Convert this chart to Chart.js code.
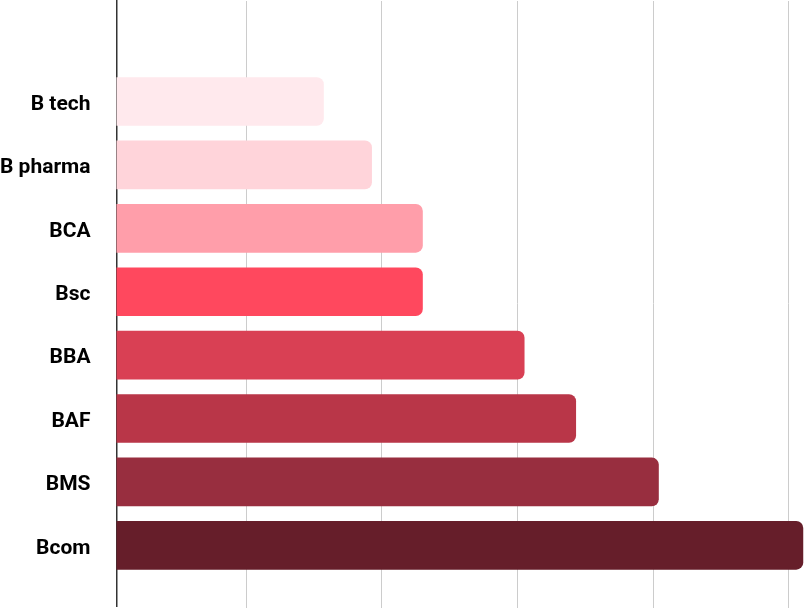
<!DOCTYPE html>
<html>
<head>
<meta charset="utf-8">
<style>
  html, body { margin: 0; padding: 0; background: #fff; }
  #wrap { width: 804px; height: 608px; }
</style>
<script src="https://cdn.jsdelivr.net/npm/chart.js@4/dist/chart.umd.min.js"></script>
</head>
<body>
<div id="wrap"><canvas id="courses"></canvas></div>
<script>
const courses = ['B tech', 'B pharma', 'BCA', 'Bsc', 'BBA', 'BAF', 'BMS', 'Bcom'];
const counts = [15.7, 19.25, 23.0, 23.0, 30.5, 34.3, 40.4, 51.05];
const barColors = ['#ffe9ed', '#ffd4da', '#ff9eaa', '#ff485e', '#d94054', '#b93648', '#982e3f', '#661e2a'];
const gridValues = [10, 20, 30, 40, 50];

// bars are positioned by index on a linear axis so the rows sit where the reference has them
const points = counts.map((v, i) => ({ x: v, y: i }));

new Chart(document.getElementById('courses'), {
    type: 'bar',
    data: {
        datasets: [{
            data: points,
            backgroundColor: barColors,
            borderRadius: 7,
            borderSkipped: 'start',
            barThickness: 48
        }]
    },
    options: {
        indexAxis: 'y',
        responsive: true,
        maintainAspectRatio: false,
        animation: false,
        layout: { padding: { top: 1 } },
        plugins: {
            legend: { display: false },
            tooltip: { enabled: false }
        },
        scales: {
            x: {
                type: 'linear',
                min: 0.44,
                max: 51.13,
                afterBuildTicks: (scale) => {
                    scale.ticks = gridValues.map(v => ({ value: v }));
                },
                ticks: { display: false },
                grid: { color: '#cccccc', lineWidth: 1, tickLength: 2 },
                border: { display: false }
            },
            y: {
                type: 'linear',
                reverse: true,
                offset: false,
                min: -1.585,
                max: 7.957,
                afterBuildTicks: (scale) => {
                    scale.ticks = courses.map((_, i) => ({ value: i }));
                },
                afterFit: (scale) => {
                    scale.width = 116.5;
                    scale.paddingTop = 0;
                    scale.paddingBottom = 0;
                },
                ticks: {
                    autoSkip: false,
                    padding: 26,
                    labelOffset: 3,
                    color: '#000000',
                    font: { family: 'Roboto', size: 21, weight: 'bold' },
                    callback: (v) => courses[v]
                },
                grid: { display: false, drawTicks: false, offset: false },
                border: { display: true, color: '#333333', width: 1.5 }
            }
        }
    }
});
</script>
</body>
</html>
